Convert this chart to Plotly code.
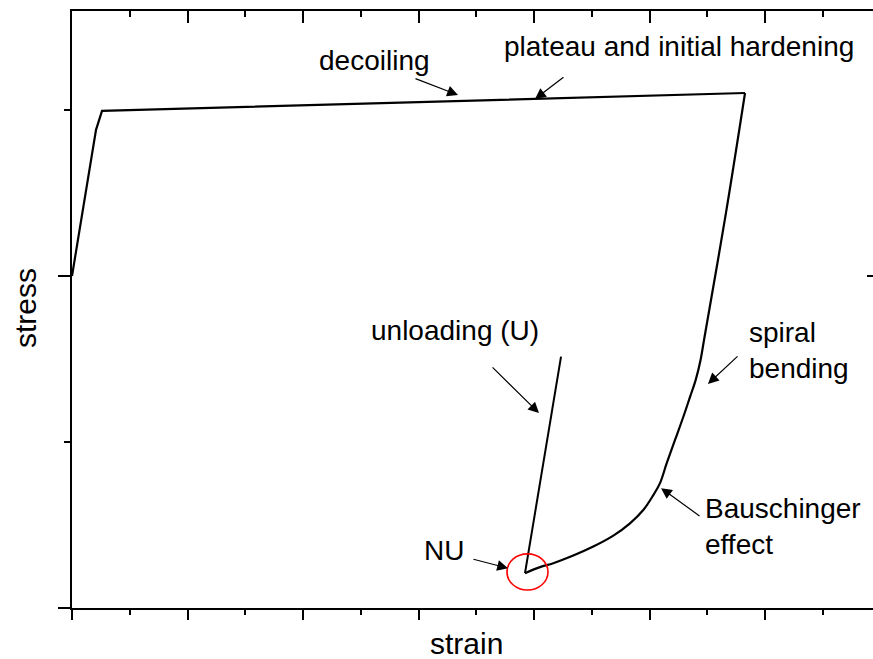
import plotly.graph_objects as go

# ---- data (arbitrary units: strain major tick = 1, stress major tick = 1) ----
# elastic loading + plateau (straight segments)
load_strain = [0.0, 0.208, 0.260, 3.013, 5.827]
load_stress = [1.000, 1.440, 1.497, 1.524, 1.551]
# reverse loading: spiral bending + Bauschinger effect (smooth curve)
reverse_strain = [5.827, 5.662, 5.472, 5.442, 5.400, 5.351, 5.293, 5.221, 5.149, 5.091,
                  5.033, 4.946, 4.831, 4.687, 4.513, 4.340, 4.167, 4.052, 3.922]
reverse_stress = [1.551, 1.190, 0.807, 0.747, 0.687, 0.636, 0.576, 0.506, 0.436, 0.376,
                  0.340, 0.295, 0.255, 0.218, 0.185, 0.158, 0.135, 0.123, 0.105]
# unloading from NU
unload_strain = [3.922, 4.234]
unload_stress = [0.105, 0.757]

labels = ["decoiling", "plateau and initial hardening", "unloading (U)",
          "spiral<br>bending", "Bauschinger<br>effect", "NU"]
label_x = [2.615, 5.255, 3.320, 5.844, 5.463, 3.221]
label_y = [1.650, 1.690, 0.836, 0.776, 0.244, 0.172]
label_anchor = ["center", "center", "center", "left", "left", "center"]

arrow_tip_x = [3.342, 4.009, 4.043, 5.506, 5.100, 3.775]
arrow_tip_y = [1.545, 1.533, 0.587, 0.675, 0.361, 0.120]
arrow_tail_x = [2.961, 4.268, 3.628, 5.775, 5.446, 3.463]
arrow_tail_y = [1.596, 1.602, 0.729, 0.762, 0.274, 0.148]

nu_circle = dict(x0=3.766, x1=4.121, y0=0.054, y1=0.163)

x_range = [0, 6.935]
y_range = [0, 1.798]

FONT = "Liberation Sans, Arial, sans-serif"

fig = go.Figure()
fig.add_trace(go.Scatter(x=load_strain, y=load_stress, mode="lines",
                         line=dict(color="black", width=2.2), showlegend=False,
                         hoverinfo="skip"))
fig.add_trace(go.Scatter(x=reverse_strain, y=reverse_stress, mode="lines",
                         line=dict(color="black", width=2.2, shape="spline", smoothing=1.0),
                         showlegend=False, hoverinfo="skip"))
fig.add_trace(go.Scatter(x=unload_strain, y=unload_stress, mode="lines",
                         line=dict(color="black", width=2), showlegend=False,
                         hoverinfo="skip", xaxis="x2", yaxis="y2"))

annotations = []
for t, x, y, a in zip(labels, label_x, label_y, label_anchor):
    annotations.append(dict(x=x, y=y, xref="x", yref="y", text=t, showarrow=False,
                            xanchor=a, yanchor="middle", align="left",
                            font=dict(family=FONT, size=28, color="black")))
for tx, ty, ax, ay in zip(arrow_tip_x, arrow_tip_y, arrow_tail_x, arrow_tail_y):
    annotations.append(dict(x=tx, y=ty, xref="x", yref="y", ax=ax, ay=ay,
                            axref="x", ayref="y", text="", showarrow=True,
                            arrowhead=2, arrowsize=1.8, arrowwidth=1.2,
                            arrowcolor="black", standoff=0, startstandoff=0))
# axis titles
annotations.append(dict(x=0.493, y=-0.060, xref="paper", yref="paper", text="strain",
                        showarrow=False, xanchor="center", yanchor="middle",
                        font=dict(family=FONT, size=30, color="black")))
annotations.append(dict(x=-0.0587, y=0.5025, xref="paper", yref="paper", text="stress",
                        showarrow=False, xanchor="center", yanchor="middle", textangle=-90,
                        font=dict(family=FONT, size=30, color="black")))

fig.add_shape(type="circle", xref="x", yref="y", line=dict(color="red", width=1.6),
              **nu_circle)

fig.update_layout(
    width=873, height=659,
    margin=dict(l=72, r=0, t=11, b=51),
    paper_bgcolor="white", plot_bgcolor="white",
    showlegend=False,
    annotations=annotations,
    xaxis=dict(range=x_range, showline=True, linecolor="black", linewidth=2,
               ticks="outside", ticklen=10, tickwidth=2, tickcolor="black",
               dtick=1, tick0=0, showticklabels=False, showgrid=False, zeroline=False,
               minor=dict(ticks="outside", ticklen=5, tickwidth=2, tickcolor="black",
                          dtick=0.5, tick0=0, showgrid=False)),
    xaxis2=dict(range=x_range, overlaying="x", side="top", anchor="y",
                showline=True, linecolor="black", linewidth=2,
                ticks="inside", ticklen=12, tickwidth=2, tickcolor="black",
                dtick=1, tick0=0, showticklabels=False, showgrid=False, zeroline=False,
                minor=dict(ticks="inside", ticklen=6, tickwidth=2, tickcolor="black",
                           dtick=0.5, tick0=0, showgrid=False)),
    yaxis=dict(range=y_range, showline=True, linecolor="black", linewidth=2,
               ticks="outside", ticklen=12, tickwidth=2, tickcolor="black",
               dtick=1, tick0=0, showticklabels=False, showgrid=False, zeroline=False,
               minor=dict(ticks="outside", ticklen=6, tickwidth=2, tickcolor="black",
                          dtick=0.5, tick0=0, showgrid=False)),
    yaxis2=dict(range=y_range, overlaying="y", side="right", anchor="x",
                showline=False, ticks="inside", ticklen=6, tickwidth=2, tickcolor="black",
                tickvals=[1], showticklabels=False, showgrid=False, zeroline=False),
)

# remove the page's default 8px body margin and any scrollbars so the
# 873x659 figure fills the window exactly
fig.write_html("out.html", config={"displayModeBar": False},
               post_script="document.body.style.margin='0';"
                           "document.documentElement.style.overflow='hidden';"
                           "document.body.style.overflow='hidden';")
